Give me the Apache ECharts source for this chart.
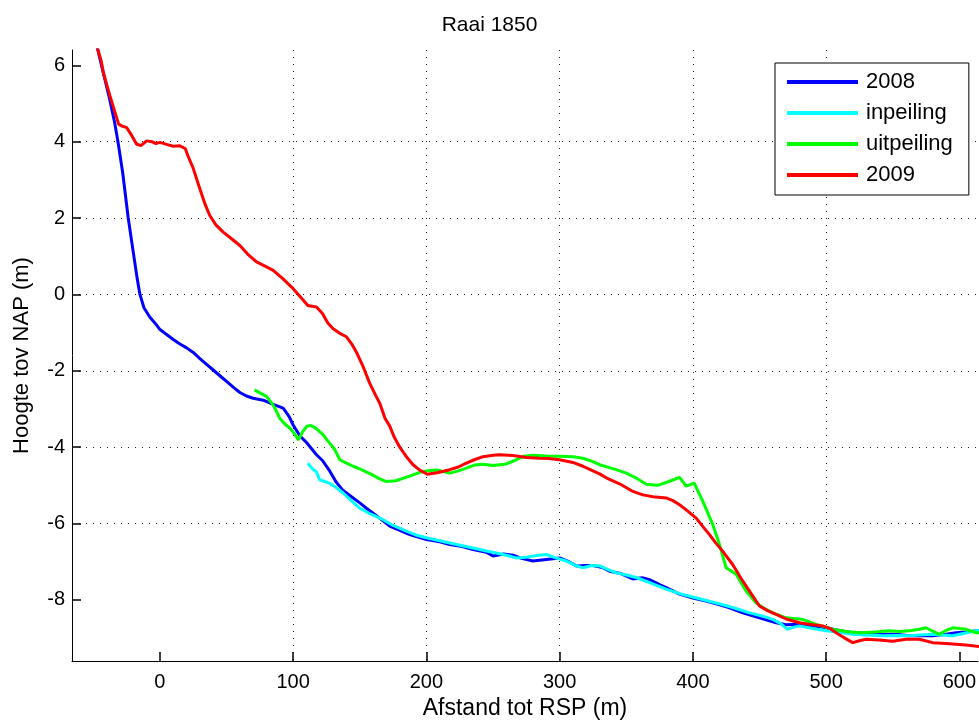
<!DOCTYPE html>
<html>
<head>
<meta charset="utf-8">
<script src="https://cdn.jsdelivr.net/npm/echarts@6/dist/echarts.min.js"></script>
<style>html,body{margin:0;padding:0;background:#fff;}#chart{width:979px;height:725px;}</style>
</head>
<body>
<div id="chart"></div>
<script>
const titleText = 'Raai 1850';
const xAxisName = 'Afstand tot RSP (m)';
const yAxisName = 'Hoogte tov NAP (m)';
const seriesNames = ['2008', 'inpeiling', 'uitpeiling', '2009'];
const seriesColors = ['#0000ff', '#00ffff', '#00ff00', '#ff0000'];

const s2008 = [[-47,6.46],[-42.5,5.8],[-38,5.15],[-34,4.5],[-31.5,4.0],[-28,3.2],[-23.8,2.0],[-20,1.1],[-17,0.4],[-15,0.0],[-12,-0.35],[-7.5,-0.6],[-3,-0.78],[0,-0.92],[5,-1.05],[10,-1.18],[15,-1.3],[20,-1.4],[25,-1.52],[30,-1.68],[35,-1.83],[40,-1.98],[45,-2.13],[50,-2.28],[55,-2.43],[60,-2.57],[65,-2.66],[70,-2.72],[77.5,-2.77],[85,-2.88],[92.5,-2.98],[97,-3.2],[100,-3.42],[105,-3.7],[110,-3.88],[117.5,-4.2],[122,-4.35],[127.5,-4.63],[132,-4.9],[137,-5.12],[145,-5.33],[150,-5.46],[155,-5.6],[162,-5.78],[172.5,-6.07],[180,-6.18],[187.5,-6.29],[200,-6.42],[210,-6.48],[217.5,-6.55],[227,-6.6],[235,-6.68],[245,-6.75],[250,-6.85],[258,-6.8],[265,-6.83],[272,-6.92],[280,-6.98],[290,-6.94],[300,-6.9],[307,-7.0],[312.5,-7.11],[320,-7.1],[325,-7.1],[332,-7.15],[337.5,-7.25],[345,-7.3],[355,-7.45],[362,-7.42],[367.5,-7.47],[375,-7.6],[380,-7.68],[390,-7.85],[400,-7.95],[410,-8.03],[417.5,-8.1],[427,-8.2],[437.5,-8.34],[450,-8.47],[462.5,-8.6],[470,-8.65],[480,-8.64],[490,-8.68],[500,-8.73],[510,-8.8],[520,-8.86],[530,-8.87],[542.5,-8.9],[552,-8.9],[562.5,-8.94],[570,-8.94],[580,-8.94],[590,-8.9],[597.5,-8.86],[605,-8.84],[615,-8.8]];

const sInpeiling = [[111,-4.42],[114,-4.55],[117.5,-4.65],[120,-4.86],[124,-4.9],[127.5,-4.95],[132,-5.05],[137.5,-5.2],[143,-5.38],[150,-5.6],[158,-5.75],[167.5,-5.9],[175,-6.05],[185,-6.2],[192,-6.3],[200.7,-6.38],[210,-6.45],[217.5,-6.51],[227,-6.58],[235,-6.64],[245,-6.72],[252.5,-6.77],[260,-6.83],[267.5,-6.9],[275,-6.88],[283,-6.84],[290,-6.81],[297,-6.9],[305,-6.98],[312,-7.1],[317.5,-7.16],[324,-7.1],[330,-7.11],[336,-7.2],[342.5,-7.29],[350,-7.35],[358,-7.42],[367.5,-7.55],[380,-7.72],[392.5,-7.86],[405,-7.97],[417.5,-8.08],[430,-8.2],[442.5,-8.34],[452,-8.42],[460,-8.51],[466,-8.62],[471,-8.77],[475,-8.72],[480,-8.68],[490,-8.75],[500,-8.81],[510,-8.85],[520,-8.9],[530,-8.92],[542.5,-8.94],[552,-8.93],[562.5,-8.94],[570,-8.92],[580,-8.9],[587,-8.92],[595,-8.94],[603,-8.88],[612.5,-8.81],[615,-8.8]];

const sUitpeiling = [[71,-2.5],[75,-2.58],[80,-2.67],[85,-2.9],[88,-3.1],[90,-3.25],[94,-3.4],[97.5,-3.5],[101,-3.65],[104,-3.81],[107,-3.6],[110,-3.46],[113,-3.43],[117,-3.5],[122.5,-3.68],[127.5,-3.9],[131,-4.05],[135,-4.33],[140,-4.42],[145,-4.5],[150,-4.57],[158,-4.7],[165,-4.83],[170,-4.9],[177,-4.88],[187.5,-4.76],[195,-4.66],[200.7,-4.62],[208,-4.6],[217.5,-4.68],[224,-4.62],[230,-4.55],[236,-4.47],[242.5,-4.45],[250,-4.48],[260,-4.44],[267.5,-4.33],[273,-4.24],[280,-4.21],[290,-4.23],[300,-4.24],[310,-4.25],[317.5,-4.29],[325,-4.38],[330,-4.46],[342.5,-4.59],[350,-4.68],[358,-4.82],[365,-4.97],[373.5,-5.0],[382,-4.9],[390,-4.79],[395,-5.02],[401,-4.94],[407.5,-5.42],[415,-6.03],[420,-6.55],[425,-7.16],[432.5,-7.33],[440,-7.77],[447.5,-8.08],[455,-8.25],[460,-8.34],[470,-8.47],[482.5,-8.51],[492.5,-8.64],[505,-8.77],[515,-8.83],[525,-8.86],[537,-8.84],[547.5,-8.81],[555,-8.83],[562.5,-8.81],[570,-8.77],[575,-8.73],[580,-8.82],[585,-8.9],[590,-8.8],[595,-8.73],[605,-8.77],[612.5,-8.86],[615,-8.86]];

const s2009 = [[-47,6.46],[-44,6.1],[-42.5,5.81],[-40,5.5],[-37.5,5.2],[-34,4.8],[-31,4.46],[-28,4.4],[-25,4.37],[-21,4.15],[-17.5,3.93],[-14,3.9],[-10,4.02],[-6,4.0],[-3,3.95],[0,3.98],[5,3.93],[10,3.88],[15,3.89],[19,3.82],[21,3.63],[25,3.3],[30,2.76],[34,2.35],[37.5,2.06],[42,1.82],[47.5,1.63],[54,1.45],[60,1.28],[66,1.05],[72.5,0.85],[80,0.72],[85,0.63],[92,0.42],[100,0.15],[105,-0.05],[111,-0.29],[117.5,-0.33],[122,-0.5],[126,-0.75],[130,-0.9],[135,-1.02],[140,-1.11],[144,-1.3],[148,-1.55],[152,-1.85],[157.5,-2.33],[162,-2.65],[165,-2.85],[169,-3.25],[172.5,-3.45],[176,-3.75],[180,-4.0],[185,-4.25],[190,-4.46],[195,-4.6],[200.7,-4.71],[208,-4.67],[217.5,-4.59],[224,-4.52],[230,-4.42],[236,-4.33],[242.5,-4.25],[250,-4.21],[255,-4.2],[265,-4.22],[275,-4.27],[285,-4.29],[292,-4.3],[300,-4.33],[310,-4.4],[317.5,-4.5],[325,-4.62],[330,-4.7],[337,-4.84],[345,-4.96],[355,-5.16],[362.5,-5.25],[370,-5.3],[380,-5.33],[385,-5.4],[390,-5.51],[396,-5.67],[402.5,-5.86],[408,-6.1],[412.5,-6.29],[417,-6.5],[422.5,-6.73],[430,-7.08],[437.5,-7.51],[444,-7.85],[450,-8.16],[456,-8.28],[462.5,-8.38],[470,-8.5],[480,-8.6],[490,-8.65],[497.5,-8.68],[503,-8.75],[507.5,-8.86],[514,-9.0],[520,-9.12],[525,-9.07],[530,-9.03],[540,-9.05],[550,-9.08],[560,-9.03],[570,-9.03],[580,-9.12],[590,-9.14],[597.5,-9.16],[605,-9.18],[615,-9.22]];

const xTicks = [0, 100, 200, 300, 400, 500, 600];
const yTicks = [-8, -6, -4, -2, 0, 2, 4, 6];

const seriesData = [s2008, sInpeiling, sUitpeiling, s2009];
const FONT = 'Liberation Sans, Arial, sans-serif';

const chart = echarts.init(document.getElementById('chart'));
chart.setOption({
  animation: false,
  backgroundColor: '#fff',
  title: {
    text: titleText, left: 'center', top: 10,
    textStyle: { fontFamily: FONT, fontSize: 21, fontWeight: 'normal', color: '#000' }
  },
  legend: {
    orient: 'vertical', left: 775, top: 63,
    padding: [8, 16, 9, 12], itemGap: 9,
    itemWidth: 71, itemHeight: 4, icon: 'rect',
    backgroundColor: '#fff', borderColor: '#000', borderWidth: 1,
    textStyle: { fontFamily: FONT, fontSize: 22, color: '#000', padding: [0, 0, 0, 3] },
    data: seriesNames
  },
  grid: { left: 72, right: 0, top: 50, bottom: 62, containLabel: false },
  xAxis: {
    type: 'value', min: -66, max: 614, splitNumber: 7,
    name: xAxisName, nameLocation: 'middle', nameGap: 36,
    nameTextStyle: { fontFamily: FONT, fontSize: 23, color: '#000' },
    axisLine: { show: true, onZero: false, lineStyle: { color: '#000', width: 1 } },
    axisTick: { show: true, inside: true, length: 9, customValues: xTicks, lineStyle: { color: '#000', width: 1.5 } },
    axisLabel: { customValues: xTicks, fontFamily: FONT, fontSize: 20, color: '#000', margin: 11 },
    splitLine: { show: true, showMinLine: false, showMaxLine: false, lineStyle: { color: '#222', type: [1, 6], width: 1 } }
  },
  yAxis: {
    type: 'value', min: -9.6, max: 6.4, splitNumber: 8,
    name: yAxisName, nameLocation: 'middle', nameGap: 39,
    nameTextStyle: { fontFamily: FONT, fontSize: 22, color: '#000' },
    axisLine: { show: true, onZero: false, lineStyle: { color: '#000', width: 1 } },
    axisTick: { show: true, inside: true, length: 9, customValues: yTicks, lineStyle: { color: '#000', width: 1.5 } },
    axisLabel: { customValues: yTicks, fontFamily: FONT, fontSize: 20, color: '#000', margin: 7 },
    splitLine: { show: true, showMinLine: false, showMaxLine: false, lineStyle: { color: '#222', type: [1, 6], width: 1 } }
  },
  series: seriesNames.map((n, i) => ({
    name: n, type: 'line', data: seriesData[i],
    showSymbol: false, symbol: 'none', smooth: false,
    lineStyle: { color: seriesColors[i], width: 3 },
    itemStyle: { color: seriesColors[i] },
    emphasis: { disabled: true }
  }))
});
</script>
</body>
</html>
